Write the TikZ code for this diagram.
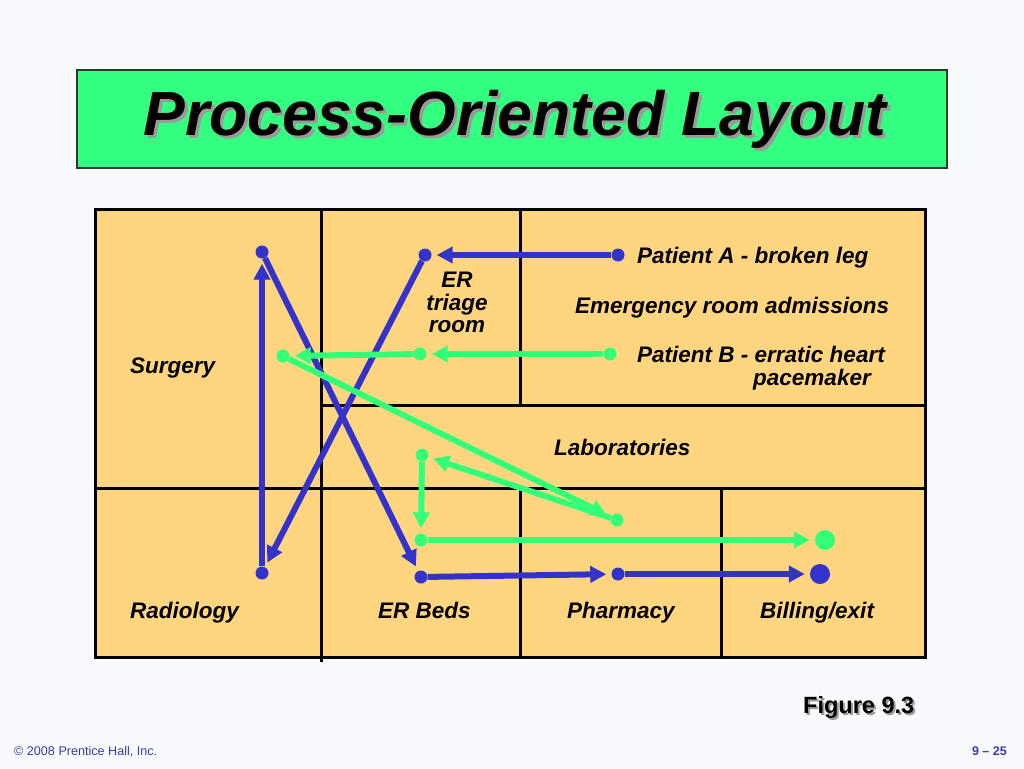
\documentclass[tikz,border=0pt]{standalone}
\usepackage{fontspec}
\setmainfont{Liberation Sans}
\usetikzlibrary{arrows.meta}
\definecolor{bg}{HTML}{F8FAFD}
\definecolor{ttlgreen}{HTML}{33FF80}
\definecolor{room}{HTML}{FFD580}
\definecolor{pblue}{HTML}{3333CC}
\definecolor{pgreen}{HTML}{33FF77}
\definecolor{shadowgray}{HTML}{9A9A9A}
\definecolor{footblue}{HTML}{3A3AA8}
\begin{document}
\begin{tikzpicture}[x=1pt,y=-1pt,
  lbl/.style={font=\fontsize{22.5}{24}\selectfont\bfseries\itshape, inner sep=0pt},
  wall/.style={line width=3pt, line cap=rect},
  bdot/.style={circle, fill=pblue, inner sep=0pt, minimum size=13pt},
  gdot/.style={circle, fill=pgreen, inner sep=0pt, minimum size=13pt},
  bbig/.style={circle, fill=pblue, inner sep=0pt, minimum size=20pt},
  gbig/.style={circle, fill=pgreen, inner sep=0pt, minimum size=20pt},
  bflow/.style={draw=pblue, line width=6pt, -{Triangle[length=16pt,width=16pt]}, shorten >=5pt},
  gflow/.style={draw=pgreen, line width=6pt, -{Triangle[length=16pt,width=16pt]}, shorten >=5pt},
]
\useasboundingbox (0,0) rectangle (1024,768);
\fill[bg] (0,0) rectangle (1024,768);

% title
\draw[fill=ttlgreen, draw=black!80, line width=1.2pt] (77,70) rectangle (947,168);
\node[anchor=base, inner sep=0pt, text=shadowgray, font=\fontsize{62.5}{66}\selectfont\bfseries\itshape] (titleshadow) at (518,138) {Process-Oriented Layout};
\node[anchor=base, inner sep=0pt, font=\fontsize{62.5}{66}\selectfont\bfseries\itshape] (title) at (515,135) {Process-Oriented Layout};

% floor plan
\fill[room] (95,209) rectangle (925,657);
\draw[wall] (95,209) rectangle (925,657);
\draw[wall] (321,209) -- (321,660);
\draw[wall] (520,209) -- (520,405);
\draw[wall] (520,488) -- (520,657);
\draw[wall] (721,488) -- (721,657);
\draw[wall] (321,405) -- (925,405);
\draw[wall] (95,488) -- (925,488);

% labels
\node[lbl, anchor=base west] (pa) at (637,263) {Patient A - broken leg};
\node[lbl, anchor=base west] (era) at (575,313) {Emergency room admissions};
\node[lbl, anchor=base west] (pb) at (637,362) {Patient B - erratic heart};
\node[lbl, anchor=base west] (pb2) at (753,385) {pacemaker};
\node[lbl, anchor=base] (er1) at (457,287) {ER};
\node[lbl, anchor=base] (er2) at (457,310) {triage};
\node[lbl, anchor=base] (er3) at (457,332) {room};
\node[lbl, anchor=base west] (surg) at (130,373) {Surgery};
\node[lbl, anchor=base west] (lab) at (554,455) {Laboratories};
\node[lbl, anchor=base west] (rad) at (130,618) {Radiology};
\node[lbl, anchor=base west] (erb) at (378,618) {ER Beds};
\node[lbl, anchor=base west] (pha) at (567,618) {Pharmacy};
\node[lbl, anchor=base west] (bil) at (760,618) {Billing/exit};

% dots
\node[bdot] (a0) at (618,255) {};
\node[bdot] (a1) at (425,255) {};
\node[bdot] (a2) at (262,573) {};
\node[bdot] (a3) at (262,252) {};
\node[bdot] (a4) at (421,577) {};
\node[bdot] (a5) at (618,574) {};
\node[bbig] (a6) at (820,574) {};

\node[gdot] (b0) at (610,354) {};
\node[gdot] (b1) at (420,354) {};
\node[gdot] (b2) at (283,356) {};
\node[gdot] (b3) at (617,520) {};
\node[gdot] (b4) at (422,455) {};
\node[gdot] (b5) at (421,540) {};
\node[gbig] (b6) at (825,540) {};

% patient A (blue)
\draw[bflow] (a0) -- (a1);
\draw[bflow] (a1) -- (a2);
\draw[bflow] (a2) -- (a3);
\draw[bflow] (a3) -- (a4);
\draw[bflow] (a4) -- (a5);
\draw[bflow] (a5) -- (a6);

% patient B (green)
\draw[gflow] (b0) -- (b1);
\draw[gflow] (b1) -- (b2);
\draw[gflow] (b2) -- (b3);
\draw[gflow] (b3) -- (b4);
\draw[gflow] (b4) -- (b5);
\draw[gflow] (b5) -- (b6);

% figure caption and footer
\node[anchor=base west, inner sep=0pt, text=shadowgray, font=\fontsize{23.5}{26}\selectfont\bfseries] (figshadow) at (805,715) {Figure 9.3};
\node[anchor=base west, inner sep=0pt, font=\fontsize{23.5}{26}\selectfont\bfseries] (fig) at (803,713) {Figure 9.3};
\node[anchor=base west, inner sep=0pt, text=footblue, font=\fontsize{12.6}{14}\selectfont] (copy) at (14,755) {© 2008 Prentice Hall, Inc.};
\node[anchor=base east, inner sep=0pt, text=footblue, font=\fontsize{12.5}{14}\selectfont\bfseries] (page) at (1007,755) {9 – 25};
\end{tikzpicture}
\end{document}
